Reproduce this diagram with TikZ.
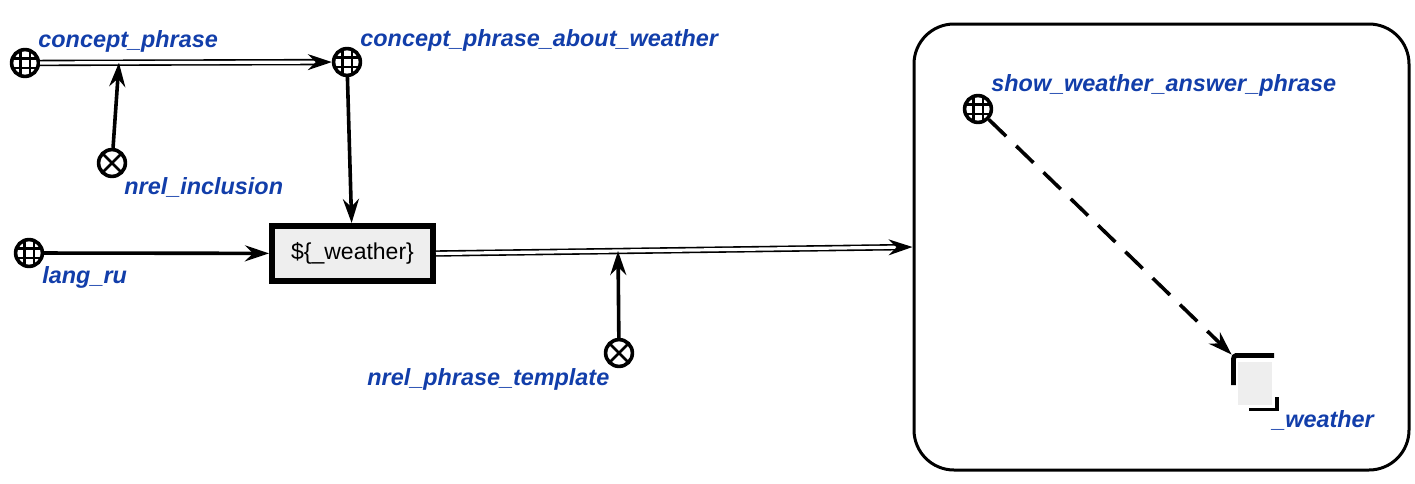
\documentclass[tikz,border=0pt]{standalone}
\usepackage{fontspec}
\setmainfont{Liberation Sans}
\usetikzlibrary{arrows.meta}
\definecolor{lbl}{RGB}{18,62,170}
\definecolor{boxgray}{RGB}{238,238,238}
\begin{document}
\begin{tikzpicture}[x=0.5pt,y=-0.5pt,
  glob/.style={circle,draw,line width=1.8pt,minimum size=13.4pt,inner sep=0pt,
    path picture={\foreach \d in {-2.3pt,2.3pt}{
      \draw[line width=1.1pt] ([xshift=\d,yshift=-8pt]path picture bounding box.center) -- ([xshift=\d,yshift=8pt]path picture bounding box.center);
      \draw[line width=1.1pt] ([yshift=\d,xshift=-8pt]path picture bounding box.center) -- ([yshift=\d,xshift=8pt]path picture bounding box.center);}}},
  crossn/.style={circle,draw,line width=1.8pt,minimum size=13.4pt,inner sep=0pt,
    path picture={\draw[line width=1.4pt] (path picture bounding box.north west) -- (path picture bounding box.south east)
      (path picture bounding box.north east) -- (path picture bounding box.south west);}},
  tbox/.style={draw,line width=3pt,fill=boxgray,minimum width=80.5pt,minimum height=27.5pt,inner sep=0pt,font=\fontsize{11.5}{13}\selectfont},
  contour/.style={draw,line width=1.5pt,rounded corners=20pt,minimum width=247.5pt,minimum height=223pt,inner sep=0pt},
  lab/.style={anchor=base west,inner sep=0pt,text=lbl,font=\fontsize{11.7}{14}\selectfont\bfseries\itshape},
  arr/.style={line width=1.8pt,-{Stealth[length=12pt,width=8pt,inset=4pt]}},
  dbl/.style={double,double distance=1.6pt,line width=0.8pt,-{Stealth[length=12pt,width=8pt,inset=4pt]}},
  dsh/.style={arr,dash pattern=on 12pt off 7pt}
]
\useasboundingbox (0,0) rectangle (1415,483);
% nodes
\node[glob] (cp) at (25,63) {};
\node[glob] (cpw) at (347,62) {};
\node[crossn] (ni) at (112,163) {};
\node[glob] (lr) at (29,253) {};
\node[tbox] (tmpl) at (352.5,253.5) {\$\{\_weather\}};
\node[crossn] (npt) at (619,353) {};
\node[contour] (ctr) at (1161.5,247) {};
\node[glob] (swa) at (978,109) {};
\node[inner sep=0pt,minimum width=23pt,minimum height=27.5pt] (w) at (1255,382.5) {};
% _weather link shape
\fill[boxgray] (1238,362) rectangle (1272,405);
\draw[line width=2.4pt] (1274,355.5) -- (1236,355.5) to[out=180,in=90] (1233.5,359) -- (1233.5,385);
\draw[line width=1.7pt] (1277,397) -- (1277,409.5) -- (1249,409.5);
% labels
\node[lab] at (38,47) {concept\_phrase};
\node[lab] at (360,46) {concept\_phrase\_about\_weather};
\node[lab] at (124,194) {nrel\_inclusion};
\node[lab] at (42,283) {lang\_ru};
\node[lab] at (367,385) {nrel\_phrase\_template};
\node[lab] at (991,91) {show\_weather\_answer\_phrase};
\node[lab] at (1272,427) {\_weather};
% connectors
\draw[dbl] (cp) -- coordinate[pos=0.27] (m1) (cpw);
\draw[arr] (ni) -- (m1);
\draw[arr] (cpw) -- (tmpl);
\draw[arr] (lr) -- (tmpl);
\draw[dbl] (tmpl.east) -- coordinate[pos=0.382] (m2) (ctr.west);
\draw[arr] (npt) -- (m2);
\draw[dsh] (swa) -- (w.north west);
\end{tikzpicture}
\end{document}
